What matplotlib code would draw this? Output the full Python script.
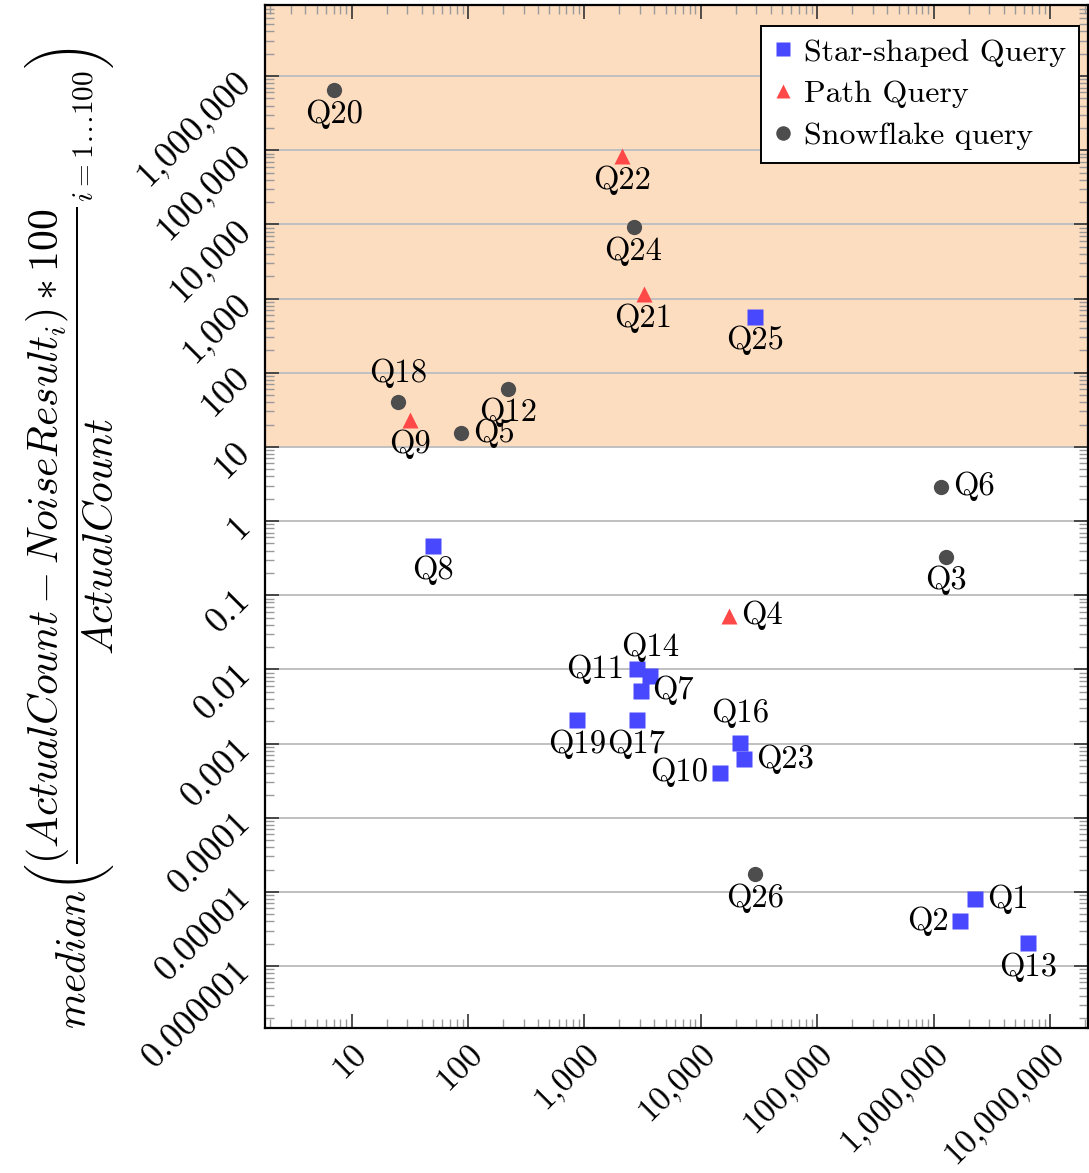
import matplotlib
matplotlib.use("Agg")
import matplotlib.pyplot as plt
from matplotlib.ticker import FixedLocator, LogLocator, NullFormatter

plt.rcParams["font.family"] = ["cmr10", "DejaVu Serif"]
plt.rcParams["mathtext.fontset"] = "cm"
plt.rcParams["axes.formatter.use_mathtext"] = True

# ---------------------------------------------------------------------------
# data
# ---------------------------------------------------------------------------
star_names = ["Q1", "Q2", "Q7", "Q8", "Q10", "Q11", "Q13", "Q14",
              "Q16", "Q17", "Q19", "Q23", "Q25"]
star_x = [2275000, 1698000, 3036, 50, 14590, 2805, 6457000, 3648,
          21680, 2805, 865, 23500, 29400]
star_y = [8.0e-6, 4.05e-6, 0.00515, 0.46, 0.000405, 0.0100, 2.02e-6, 0.00813,
          0.00103, 0.00207, 0.00207, 0.000612, 569]

path_names = ["Q4", "Q9", "Q21", "Q22"]
path_x = [17460, 31.6, 3222, 2099]
path_y = [0.0532, 23.0, 1151, 83400]

snow_names = ["Q3", "Q5", "Q6", "Q12", "Q18", "Q20", "Q24", "Q26"]
snow_x = [1274000, 86.5, 1167000, 222, 25.2, 7.05, 2642, 29400]
snow_y = [0.33, 15.2, 2.90, 60.8, 40.3, 647000, 9120, 1.74e-5]

# where each label sits relative to its marker
label_pos = {
    "Q1": "right", "Q2": "left", "Q3": "below", "Q4": "right", "Q5": "right",
    "Q6": "right", "Q7": "right", "Q8": "below", "Q9": "below", "Q10": "left",
    "Q11": "left", "Q12": "below", "Q13": "below", "Q14": "above",
    "Q16": "above", "Q17": "below", "Q18": "above", "Q19": "below",
    "Q20": "below", "Q21": "below", "Q22": "below", "Q23": "right",
    "Q24": "below", "Q25": "below", "Q26": "below",
}

x_ticks = [10, 100, 1000, 10000, 100000, 1000000, 10000000]
x_labels = ["10", "100", "1,000", "10,000", "100,000", "1,000,000", "10,000,000"]
y_ticks = [1e-6, 1e-5, 1e-4, 1e-3, 1e-2, 1e-1, 1, 10, 100, 1000, 10000, 100000, 1000000]
y_labels = ["0.000001", "0.00001", "0.0001", "0.001", "0.01", "0.1", "1", "10",
            "100", "1,000", "10,000", "100,000", "1,000,000"]

BLUE = "#4848FF"
RED = "#FF4848"
GREY = "#4D4D4D"
SHADE = "#FDDDC0"

# ---------------------------------------------------------------------------
fig = plt.figure(figsize=(10.89, 11.73), dpi=100)
ax = fig.add_axes([0.2433, 0.1236, 0.7557, 0.8721])
ax.set_xscale("log")
ax.set_yscale("log")
ax.set_xlim(1.8, 2.12e7)
ax.set_ylim(1.46e-7, 9.06e6)

ax.axhspan(10, 9.06e6, color=SHADE, zorder=0, lw=0)
ax.yaxis.grid(True, which="major", color="#C0C0C0", lw=1.4, zorder=1)

ax.plot(star_x, star_y, "s", ms=11, color=BLUE, mec="none", label="Star-shaped Query", zorder=3)
ax.plot(path_x, path_y, "^", ms=11, color=RED, mec="none", label="Path Query", zorder=3)
ax.plot(snow_x, snow_y, "o", ms=11, color=GREY, mec="none", label="Snowflake query", zorder=3)

offsets = {"below": (0, -24, "center"), "above": (0, 29, "center"),
           "right": (12, 0, "left"), "left": (-12, 0, "right")}
for names, xs, ys in [(star_names, star_x, star_y), (path_names, path_x, path_y),
                      (snow_names, snow_x, snow_y)]:
    for n, x, y in zip(names, xs, ys):
        dx, dy, ha = offsets[label_pos[n]]
        ax.annotate(n, (x, y), xytext=(dx, dy), textcoords="offset pixels",
                    ha=ha, va="center", fontsize=23.5, zorder=4)

ax.xaxis.set_major_locator(FixedLocator(x_ticks))
ax.set_xticklabels(x_labels, rotation=45, ha="right", va="top",
                   rotation_mode="anchor", fontsize=24.5)
ax.yaxis.set_major_locator(FixedLocator(y_ticks))
ax.set_yticklabels(y_labels, rotation=45, ha="right", va="center",
                   rotation_mode="anchor", fontsize=26)
ax.xaxis.set_minor_locator(LogLocator(base=10, subs=range(2, 10), numticks=30))
ax.yaxis.set_minor_locator(LogLocator(base=10, subs=range(2, 10), numticks=30))
ax.xaxis.set_minor_formatter(NullFormatter())
ax.yaxis.set_minor_formatter(NullFormatter())
ax.tick_params(which="both", direction="in", top=True, right=True)
ax.tick_params(which="major", length=10, width=1.2, color="#333333")
ax.tick_params(axis="x", which="major", pad=8)
ax.tick_params(axis="y", which="major", pad=14)
ax.tick_params(which="minor", length=6.5, width=1.0, color="#9A9A9A")
for s in ax.spines.values():
    s.set_linewidth(1.6)

# y label: the i-range subscript hangs off the fraction, inside the parentheses
fig.text(70 / 1089, 1 - 538 / 1173,
         r"$median\left({\dfrac{(ActualCount - NoiseResult_i) * 100}{ActualCount}}_{i=1\ldots100}\right)$",
         rotation=90, ha="center", va="center", fontsize=30)

leg = ax.legend(loc="upper right", bbox_to_anchor=(0.989, 0.980), borderaxespad=0,
                fontsize=23, frameon=True, fancybox=False, edgecolor="black",
                framealpha=1, handlelength=0.6, handletextpad=0.35, borderpad=0.4,
                labelspacing=0.42, markerscale=0.95)
leg.get_frame().set_linewidth(1.4)

fig.savefig("out.png", dpi=100)
